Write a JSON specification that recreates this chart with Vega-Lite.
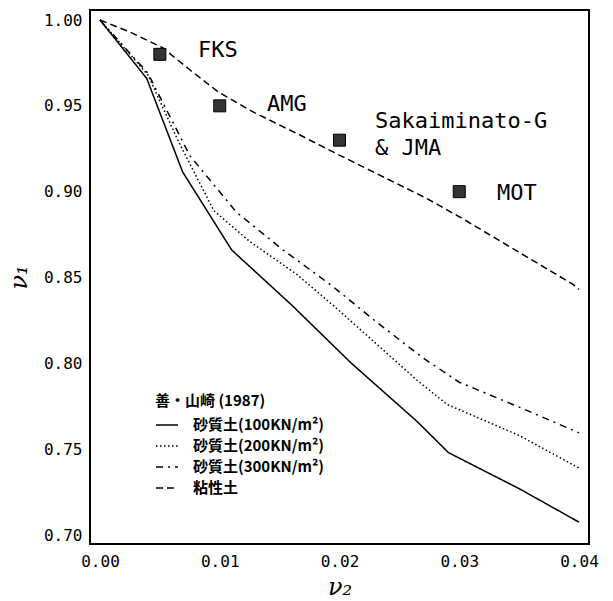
{
  "$schema": "https://vega.github.io/schema/vega-lite/v6.json",
  "width": 499,
  "height": 534,
  "autosize": {"type": "none"},
  "padding": {"left": 90, "top": 10, "right": 24, "bottom": 57},
  "background": "white",
  "config": {
    "view": {"stroke": "black", "strokeWidth": 2},
    "axis": {
      "grid": false, "ticks": false, "domain": false,
      "labelFont": "DejaVu Sans Mono", "labelFontSize": 16, "labelColor": "black",
      "titleFont": "DejaVu Serif", "titleFontSize": 24, "titleFontWeight": "normal",
      "titleFontStyle": "italic", "titleColor": "black"
    }
  },
  "datasets": {
    "curves": [
      {"series": "砂質土(100KN/m²)", "v2": 0, "v1": 1.0},
      {"series": "砂質土(100KN/m²)", "v2": 0.0039, "v1": 0.966},
      {"series": "砂質土(100KN/m²)", "v2": 0.0069, "v1": 0.9115},
      {"series": "砂質土(100KN/m²)", "v2": 0.011, "v1": 0.866},
      {"series": "砂質土(100KN/m²)", "v2": 0.016, "v1": 0.834},
      {"series": "砂質土(100KN/m²)", "v2": 0.021, "v1": 0.800},
      {"series": "砂質土(100KN/m²)", "v2": 0.0265, "v1": 0.766},
      {"series": "砂質土(100KN/m²)", "v2": 0.0291, "v1": 0.748},
      {"series": "砂質土(100KN/m²)", "v2": 0.035, "v1": 0.727},
      {"series": "砂質土(100KN/m²)", "v2": 0.04, "v1": 0.7075},
      {"series": "砂質土(200KN/m²)", "v2": 0, "v1": 1.0},
      {"series": "砂質土(200KN/m²)", "v2": 0.004, "v1": 0.968},
      {"series": "砂質土(200KN/m²)", "v2": 0.0065, "v1": 0.93},
      {"series": "砂質土(200KN/m²)", "v2": 0.0095, "v1": 0.889},
      {"series": "砂質土(200KN/m²)", "v2": 0.0125, "v1": 0.871},
      {"series": "砂質土(200KN/m²)", "v2": 0.0164, "v1": 0.852},
      {"series": "砂質土(200KN/m²)", "v2": 0.0196, "v1": 0.833},
      {"series": "砂質土(200KN/m²)", "v2": 0.0265, "v1": 0.790},
      {"series": "砂質土(200KN/m²)", "v2": 0.029, "v1": 0.776},
      {"series": "砂質土(200KN/m²)", "v2": 0.035, "v1": 0.758},
      {"series": "砂質土(200KN/m²)", "v2": 0.04, "v1": 0.739},
      {"series": "砂質土(300KN/m²)", "v2": 0, "v1": 1.0},
      {"series": "砂質土(300KN/m²)", "v2": 0.004, "v1": 0.969},
      {"series": "砂質土(300KN/m²)", "v2": 0.0075, "v1": 0.921},
      {"series": "砂質土(300KN/m²)", "v2": 0.0114, "v1": 0.888},
      {"series": "砂質土(300KN/m²)", "v2": 0.0153, "v1": 0.866},
      {"series": "砂質土(300KN/m²)", "v2": 0.0194, "v1": 0.845},
      {"series": "砂質土(300KN/m²)", "v2": 0.0231, "v1": 0.824},
      {"series": "砂質土(300KN/m²)", "v2": 0.027, "v1": 0.803},
      {"series": "砂質土(300KN/m²)", "v2": 0.030, "v1": 0.789},
      {"series": "砂質土(300KN/m²)", "v2": 0.035, "v1": 0.7745},
      {"series": "砂質土(300KN/m²)", "v2": 0.04, "v1": 0.7595},
      {"series": "粘性土", "v2": 0, "v1": 1.0},
      {"series": "粘性土", "v2": 0.0025, "v1": 0.993},
      {"series": "粘性土", "v2": 0.0052, "v1": 0.984},
      {"series": "粘性土", "v2": 0.0075, "v1": 0.971},
      {"series": "粘性土", "v2": 0.0099, "v1": 0.958},
      {"series": "粘性土", "v2": 0.0129, "v1": 0.946},
      {"series": "粘性土", "v2": 0.0167, "v1": 0.933},
      {"series": "粘性土", "v2": 0.0195, "v1": 0.923},
      {"series": "粘性土", "v2": 0.0273, "v1": 0.896},
      {"series": "粘性土", "v2": 0.0301, "v1": 0.885},
      {"series": "粘性土", "v2": 0.0395, "v1": 0.846},
      {"series": "粘性土", "v2": 0.04, "v1": 0.843}
    ],
    "stations": [
      {"station": "FKS", "v2": 0.005, "v1": 0.98},
      {"station": "AMG", "v2": 0.01, "v1": 0.95},
      {"station": "Sakaiminato-G & JMA", "v2": 0.02, "v1": 0.93},
      {"station": "MOT", "v2": 0.03, "v1": 0.90}
    ],
    "labels": [
      {"label": "FKS", "v2": 0.00818, "v1": 0.9825},
      {"label": "AMG", "v2": 0.01395, "v1": 0.9512},
      {"label": "Sakaiminato-G", "v2": 0.02296, "v1": 0.9412},
      {"label": "& JMA", "v2": 0.02296, "v1": 0.9257},
      {"label": "MOT", "v2": 0.03315, "v1": 0.8995}
    ]
  },
  "layer": [
    {
      "data": {"name": "curves"},
      "mark": {"type": "line", "color": "black", "strokeWidth": 1.5},
      "encoding": {
        "x": {
          "field": "v2", "type": "quantitative",
          "scale": {"domain": [-0.000835, 0.040835], "nice": false, "zero": false},
          "axis": {"values": [0, 0.01, 0.02, 0.03, 0.04], "format": ".2f", "labelPadding": 9, "title": "ν₂", "titlePadding": 6}
        },
        "y": {
          "field": "v1", "type": "quantitative",
          "scale": {"domain": [0.69476, 1.00583], "nice": false, "zero": false},
          "axis": {"values": [0.7, 0.75, 0.8, 0.85, 0.9, 0.95, 1.0], "format": ".2f", "labelPadding": 8, "title": "ν₁", "titlePadding": 12}
        },
        "strokeDash": {
          "field": "series", "type": "nominal",
          "scale": {
            "domain": ["砂質土(100KN/m²)", "砂質土(200KN/m²)", "砂質土(300KN/m²)", "粘性土"],
            "range": [[1, 0], [1.5, 2.5], [7, 5, 2, 5], [7, 4]]
          },
          "legend": {
            "orient": "none", "legendX": 65, "legendY": 384,
            "title": "善・山崎 (1987)",
            "titleFont": "Noto Sans CJK JP", "titleFontSize": 15, "titleFontWeight": "bold", "titleColor": "black",
            "titlePadding": 4,
            "labelFont": "Noto Sans CJK JP", "labelFontSize": 15, "labelFontWeight": "bold", "labelColor": "black",
            "symbolType": "stroke", "symbolSize": 484, "symbolStrokeWidth": 1.5, "symbolStrokeColor": "black",
            "labelOffset": 14, "rowPadding": 1, "padding": 0
          }
        }
      }
    },
    {
      "data": {"name": "stations"},
      "mark": {"type": "point", "shape": "square", "size": 144, "filled": true, "color": "#333333", "stroke": "black", "strokeWidth": 1, "opacity": 1},
      "encoding": {
        "x": {"field": "v2", "type": "quantitative"},
        "y": {"field": "v1", "type": "quantitative"}
      }
    },
    {
      "data": {"name": "labels"},
      "mark": {"type": "text", "align": "left", "baseline": "middle", "font": "DejaVu Sans Mono", "fontSize": 22, "color": "black"},
      "encoding": {
        "x": {"field": "v2", "type": "quantitative"},
        "y": {"field": "v1", "type": "quantitative"},
        "text": {"field": "label"}
      }
    }
  ]
}
